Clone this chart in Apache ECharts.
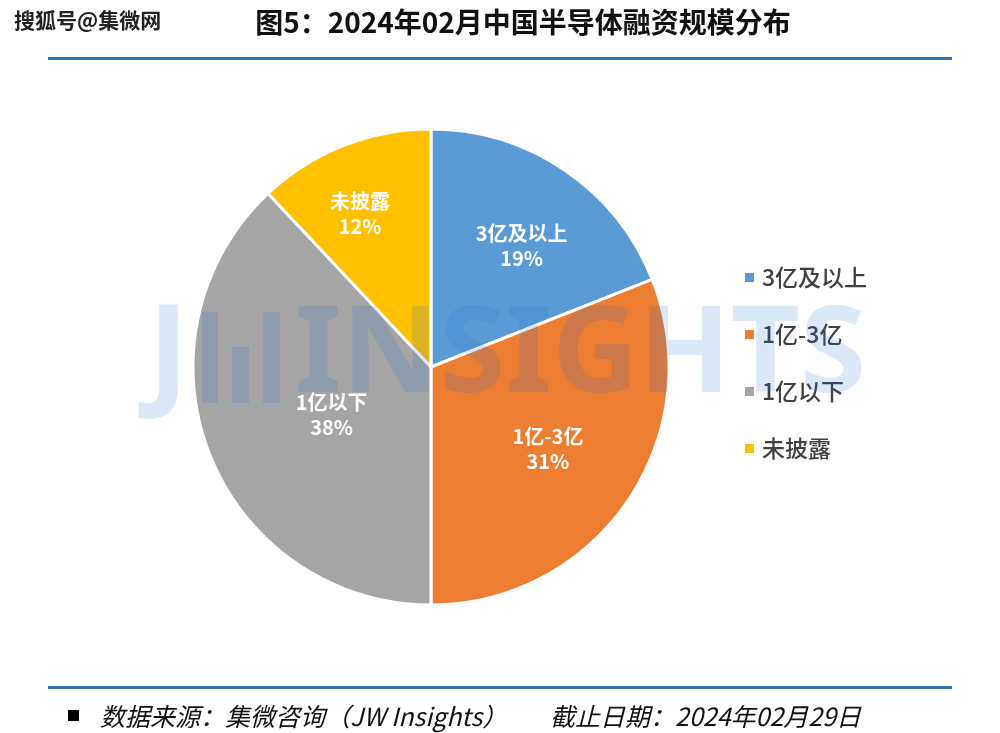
<!DOCTYPE html>
<html>
<head>
<meta charset="utf-8">
<script src="https://cdn.jsdelivr.net/npm/echarts@6/dist/echarts.min.js"></script>
<style>html,body{margin:0;padding:0;background:#fff}#c{width:1000px;height:733px}</style>
</head>
<body>
<div id="c"></div>
<script>
const categories = ['3亿及以上', '1亿-3亿', '1亿以下', '未披露'];
const shares = [19, 31, 38, 12];
const sliceColors = ['#5B9BD5', '#ED7D31', '#A5A5A5', '#FFC000'];
const labelOffsets = [[22, -20], [16, 13], [14, 3], [-26, -40]];
const titleText = '图5：2024年02月中国半导体融资规模分布';
const sourceText = '数据来源：集微咨询（JW Insights）';
const dateText = '截止日期：2024年02月29日';

const FONT = '"Noto Sans CJK SC", "Noto Sans", sans-serif';
const chart = echarts.init(document.getElementById('c'), null, {renderer: 'canvas'});
const wm = 'rgba(30,110,210,0.16)';

const option = {
  backgroundColor: '#ffffff',
  animation: false,
  title: {
    text: titleText,
    left: 518, top: 3, textAlign: 'center',
    textStyle: {fontFamily: FONT, fontSize: 28, fontWeight: 'bold', color: '#111'}
  },
  legend: {
    orient: 'vertical',
    left: 738, top: 261,
    itemWidth: 11, itemHeight: 11, itemGap: 34,
    icon: 'rect',
    data: categories,
    textStyle: {fontFamily: FONT, fontSize: 23, fontWeight: 500, color: '#404040', lineHeight: 23, padding: [0, 0, 0, 2]}
  },
  series: [{
    type: 'pie',
    center: [431, 367],
    radius: 238,
    startAngle: 90,
    clockwise: true,
    avoidLabelOverlap: false,
    itemStyle: {borderColor: '#fff', borderWidth: 3},
    label: {
      show: true, position: 'inside',
      formatter: p => p.name + '\n' + p.value + '%',
      color: '#fff', fontFamily: FONT, fontSize: 20, lineHeight: 25, fontWeight: 600
    },
    labelLine: {show: false},
    emphasis: {disabled: true},
    data: categories.map((n, i) => ({
      name: n, value: shares[i],
      itemStyle: {color: sliceColors[i]},
      label: {offset: labelOffsets[i]}
    }))
  }],
  graphic: [
    {type: 'rect', shape: {x: 48, y: 57, width: 904, height: 3}, style: {fill: '#2E75B6'}, z: 10},
    {type: 'rect', shape: {x: 48, y: 686, width: 904, height: 3}, style: {fill: '#2E75B6'}, z: 10},
    {type: 'rect', shape: {x: 68, y: 710, width: 11, height: 11}, style: {fill: '#000'}, z: 10},
    {type: 'text', x: 100, y: 716, style: {text: sourceText, fontFamily: FONT, fontSize: 25, fontStyle: 'italic', fill: '#111', textVerticalAlign: 'middle'}, z: 10},
    {type: 'text', x: 550, y: 716, style: {text: dateText, fontFamily: FONT, fontSize: 25, fontStyle: 'italic', fill: '#111', textVerticalAlign: 'middle'}, z: 10},
    {type: 'text', x: 14, y: 20, style: {text: '搜狐号@集微网', fontFamily: FONT, fontSize: 21, fontWeight: 'bold', fill: '#222', stroke: '#fff', lineWidth: 2, textVerticalAlign: 'middle'}, z: 10},
    // JW INSIGHTS watermark
    {type: 'text', x: 148, y: 358, style: {text: 'J', fontFamily: '"Noto Sans", sans-serif', fontSize: 124, fontWeight: 'bold', fill: wm, textVerticalAlign: 'middle'}, z: 20},
    {type: 'rect', shape: {x: 202, y: 312, width: 16, height: 91}, style: {fill: wm}, z: 20},
    {type: 'rect', shape: {x: 232, y: 347, width: 17, height: 56}, style: {fill: wm}, z: 20},
    {type: 'rect', shape: {x: 263, y: 312, width: 17, height: 91}, style: {fill: wm}, z: 20},
    {type: 'text', x: 295, y: 358, style: {text: 'INSIGHTS', fontFamily: '"Noto Sans", sans-serif', fontSize: 120, fontWeight: 'bold', fill: wm, textVerticalAlign: 'middle'}, z: 20}
  ]
};
chart.setOption(option);
</script>
</body>
</html>
